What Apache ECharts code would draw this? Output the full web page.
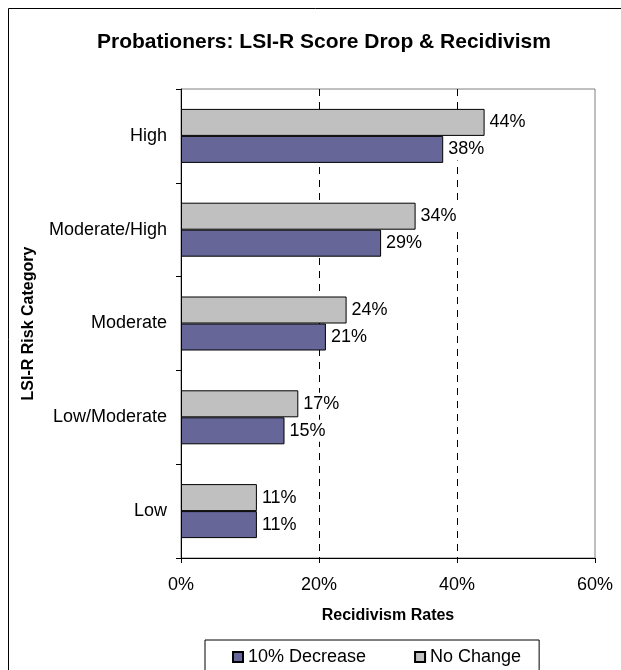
<!DOCTYPE html>
<html>
<head>
<meta charset="utf-8">
<script src="https://cdn.jsdelivr.net/npm/echarts@6/dist/echarts.min.js"></script>
<style>
  html, body { margin: 0; padding: 0; background: #fff; }
  #chart { width: 621px; height: 670px; }
</style>
</head>
<body>
<div id="chart"></div>
<script>
// categories bottom -> top (value axis on x, categories on y)
var categories = ['Low', 'Low/Moderate', 'Moderate', 'Moderate/High', 'High'];
var decrease10 = [11, 15, 21, 29, 38];
var noChange = [11, 17, 24, 34, 44];
var xTicks = [0, 20, 40, 60];

var font = 'Liberation Sans, Arial, sans-serif';

var myChart = echarts.init(document.getElementById('chart'));

// value labels sit on a white box, covering grid lines behind them
function barLabel() {
  return {
    show: true,
    position: 'right',
    distance: 3,
    fontFamily: font,
    fontSize: 18,
    color: '#000',
    backgroundColor: '#fff',
    padding: [2, 2],
    formatter: '{c}%'
  };
}

var option = {
  backgroundColor: '#fff',
  animation: false,
  textStyle: { fontFamily: font, color: '#000' },
  title: {
    text: 'Probationers: LSI-R Score Drop & Recidivism',
    left: 97,
    top: 32,
    padding: 0,
    textStyle: { fontFamily: font, fontSize: 21, fontWeight: 'bold', color: '#000' }
  },
  graphic: [{
    type: 'rect',
    shape: { x: 8.5, y: 8.5, width: 700, height: 700 },
    style: { fill: 'none', stroke: '#000', lineWidth: 1 },
    silent: true
  }],
  legend: {
    data: ['10% Decrease', 'No Change'],
    left: 205,
    top: 640,
    padding: [8, 18, 20, 27],
    itemGap: 48,
    itemWidth: 10,
    itemHeight: 10,
    icon: 'rect',
    borderColor: '#000',
    borderWidth: 1,
    textStyle: { fontFamily: font, fontSize: 18, color: '#000' }
  },
  grid: {
    left: 181,
    right: 26,
    top: 89,
    bottom: 112,
    show: true,
    borderColor: '#808080',
    borderWidth: 1,
    containLabel: false
  },
  xAxis: {
    type: 'value',
    min: xTicks[0],
    max: xTicks[xTicks.length - 1],
    interval: 20,
    name: 'Recidivism Rates',
    nameLocation: 'middle',
    nameGap: 50,
    nameTextStyle: { fontFamily: font, fontSize: 16, fontWeight: 'bold', color: '#000' },
    axisLine: { show: true, lineStyle: { color: '#000', width: 1 } },
    axisTick: { show: true, length: 5, lineStyle: { color: '#000' } },
    axisLabel: {
      margin: 18,
      fontFamily: font,
      fontSize: 18,
      color: '#000',
      formatter: '{value}%'
    },
    splitLine: {
      show: true,
      showMinLine: false,
      showMaxLine: false,
      lineStyle: { color: '#000', type: [7, 6], width: 1 }
    }
  },
  yAxis: {
    type: 'category',
    data: categories,
    name: 'LSI-R Risk Category',
    nameLocation: 'middle',
    nameGap: 144,
    nameTextStyle: { fontFamily: font, fontSize: 16, fontWeight: 'bold', color: '#000' },
    axisLine: { show: true, lineStyle: { color: '#000', width: 1 } },
    axisTick: { show: true, length: 5, lineStyle: { color: '#000' } },
    axisLabel: { margin: 14, fontFamily: font, fontSize: 18, color: '#000' },
    splitLine: { show: false }
  },
  // first series is drawn on top within each group
  series: [{
    name: 'No Change',
    type: 'bar',
    data: noChange,
    barWidth: 27,
    barGap: '0%',
    itemStyle: { color: '#c0c0c0', borderColor: '#000', borderWidth: 1 },
    label: barLabel()
  }, {
    name: '10% Decrease',
    type: 'bar',
    data: decrease10,
    barWidth: 27,
    barGap: '0%',
    itemStyle: { color: '#666699', borderColor: '#000', borderWidth: 1 },
    label: barLabel()
  }]
};

myChart.setOption(option);
</script>
</body>
</html>
